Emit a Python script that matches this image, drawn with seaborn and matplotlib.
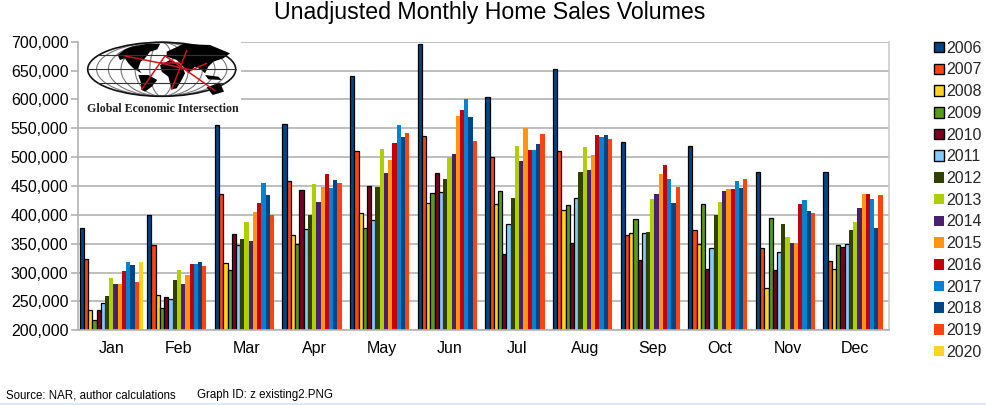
import numpy as np
import pandas as pd
import matplotlib
matplotlib.use("Agg")
import matplotlib.pyplot as plt
from matplotlib.patches import Ellipse, Polygon, Rectangle
from matplotlib.ticker import FuncFormatter, MultipleLocator
import seaborn as sns

months = ["Jan", "Feb", "Mar", "Apr", "May", "Jun", "Jul", "Aug", "Sep", "Oct", "Nov", "Dec"]
years = [str(y) for y in range(2006, 2021)]

# one list per month, in year order; 2020 only has January
jan = [377, 323.5, 235, 218, 235, 247, 260, 290, 281, 280, 302, 319, 313, 284, 318]
feb = [400, 347, 262, 238, 258, 254, 287, 304, 281, 295, 314, 315, 319, 311]
mar = [555, 436, 316, 304, 366, 347, 359, 387, 355, 405, 420, 455, 434, 400]
apr = [557, 458, 365, 349, 443, 375, 400, 454, 422, 449, 470, 447, 460, 456]
may = [640, 511, 403, 377, 450, 391, 448, 514, 473, 495, 524, 555, 535, 542]
jun = [696, 536, 421, 438, 472, 440, 462, 500, 506, 571, 582, 600, 570, 528]
jul = [604, 500, 418, 442, 332, 385, 430, 519, 494, 551, 513, 513, 523, 540]
aug = [653, 510, 409, 417, 352, 429, 475, 518, 478, 504, 539, 535, 539, 532]
sep = [526, 365, 369, 392, 321, 369, 371, 427, 436, 471, 486, 462, 420, 449]
oct_ = [519, 373, 349, 418, 307, 343, 400, 423, 442, 444, 445, 458, 446, 462]
nov = [475, 343, 273, 395, 304, 335, 385, 362, 351, 351, 418, 425, 406, 403]
dec = [474, 320, 306, 347, 345, 349, 373, 387, 412, 436, 436, 427, 377, 434]
month_values = [jan, feb, mar, apr, may, jun, jul, aug, sep, oct_, nov, dec]

colors = ["#004586", "#ff420e", "#ffd320", "#579d1c", "#7e0021", "#83caff", "#314004",
          "#aecf00", "#4b1f6f", "#ff950e", "#c5000b", "#0084d1", "#004586", "#ff420e", "#ffd320"]
outlined = 6  # first six years have a black border in the original

rows = []
for m, vals in zip(months, month_values):
    for y, v in zip(years, vals):
        rows.append({"month": m, "year": y, "sales": v * 1000})
df = pd.DataFrame(rows)

sns.set_theme(style="white")
plt.rcParams["font.family"] = ["Liberation Sans", "DejaVu Sans"]

W, H = 987, 405
fig = plt.figure(figsize=(W / 100, H / 100), dpi=100)
left, right, top, bottom = 77.5, 889, 41.7, 330.3
ax = fig.add_axes([left / W, 1 - bottom / H, (right - left) / W, (bottom - top) / H])

sns.barplot(data=df, x="month", y="sales", hue="year", order=months, hue_order=years,
            palette=dict(zip(years, colors)), width=15 / 16, saturation=1, ax=ax, legend=True)

for i, cont in enumerate(ax.containers):
    for bar in cont:
        bar.set_edgecolor("black" if i < outlined else bar.get_facecolor())
        bar.set_linewidth(0.9 if i < outlined else 0)

ax.set_xlim(-0.5, 11.5)
ax.set_ylim(200000, 700000)
ax.yaxis.set_major_locator(MultipleLocator(50000))
ax.yaxis.set_major_formatter(FuncFormatter(lambda v, _: f"{int(v):,}"))
ax.set_xlabel("")
ax.set_ylabel("")
ax.grid(axis="y", color="#b3b3b3", lw=1.2)
ax.set_axisbelow(True)
for side in ax.spines:
    ax.spines[side].set_color("#b3b3b3")
    ax.spines[side].set_linewidth(1.2)
ax.spines["top"].set_visible(False)
ax.spines["right"].set_color("#cccccc")

ax.set_xticks(np.arange(-0.5, 12, 1), minor=True)
ax.tick_params(axis="x", which="major", length=0, labelsize=11.5, pad=8, colors="black")
ax.tick_params(axis="x", which="minor", length=5, width=1.2, color="#b3b3b3")
ax.tick_params(axis="y", which="major", length=5, width=1.2, color="#b3b3b3",
               labelsize=11.5, pad=1.5, labelcolor="black", left=True)

handles, labels = ax.get_legend_handles_labels()
leg = ax.legend(handles, labels, loc="upper left", bbox_to_anchor=(929 / W, 1 - 36 / H),
                bbox_transform=fig.transFigure, frameon=False, fontsize=11.5,
                handlelength=0.64, handleheight=0.64, handletextpad=0.12,
                labelspacing=0.42, borderpad=0.3, borderaxespad=0)
for h, c in zip(leg.legend_handles, range(len(years))):
    h.set_edgecolor("black" if c < outlined else colors[c])
    h.set_linewidth(1.0 if c < outlined else 0)

fig.text(490 / W, 1 - 12 / H, "Unadjusted Monthly Home Sales Volumes", ha="center", va="center",
         fontsize=16.7, color="black")
fig.text(6 / W, 1 - 395 / H, "Source: NAR, author calculations", fontsize=8.3, va="center", color="black")
fig.text(197 / W, 1 - 395 / H, "Graph ID: z existing2.PNG", fontsize=8.3, va="center", color="black")
fig.add_artist(plt.Line2D([0, 1], [0.6 / H, 0.6 / H], color="#d5e6f3", lw=1.2))

# logo pasted over the top left of the plot, drawn in pixel space
logo = fig.add_axes([79 / W, 1 - 120 / H, 162 / W, 80 / H], zorder=5)
logo.set_xlim(79, 241)
logo.set_ylim(120, 40)
logo.axis("off")
logo.add_patch(Rectangle((79, 40), 162, 80, fc="white", ec="none"))


def zx(p):
    # positions measured on the zoomed crop of the logo
    return [(70 + a / 3, 30 + b / 3) for a, b in p]


cx, cy, rx, ry = 161.7, 69.3, 74, 27
for f in [0.88, 0.72, 0.55, 0.36, 0.16]:
    logo.add_patch(Ellipse((cx, cy), 2 * rx * f, 2 * ry, fc="none", ec="#777777", lw=0.8))
for dy in [-14, 0, 14]:
    half = rx * np.sqrt(1 - (dy / ry) ** 2)
    logo.plot([cx - half, cx + half], [cy + dy, cy + dy], color="#333333", lw=0.8)
logo.add_patch(Ellipse((cx, cy), 2 * rx, 2 * ry, fc="none", ec="#111111", lw=1.2))

land = [
    [(143, 75), (165, 58), (185, 50), (230, 42), (270, 42), (262, 58), (240, 65), (225, 85),
     (212, 95), (205, 115), (215, 130), (190, 115), (175, 100), (165, 85), (150, 90)],
    [(205, 135), (235, 135), (262, 150), (245, 170), (225, 185), (215, 180), (212, 155)],
    [(270, 105), (300, 90), (335, 105), (345, 130), (335, 150), (320, 175), (305, 178),
     (295, 140), (275, 125)],
    [(290, 65), (340, 42), (420, 45), (480, 70), (460, 85), (430, 95), (415, 110), (405, 130),
     (395, 120), (375, 110), (355, 130), (340, 110), (320, 90), (290, 80)],
    [(410, 172), (450, 158), (462, 185), (428, 195)],
    [(405, 135), (445, 140), (455, 150), (415, 148)],
]
for shape in land:
    logo.add_patch(Polygon(zx(shape), fc="black", ec="none"))

routes = [
    [(165, 78), (275, 100), (340, 115), (435, 182)],
    [(215, 178), (285, 78), (340, 115), (365, 120), (410, 100)],
    [(305, 178), (350, 62)],
    [(270, 100), (330, 100)],
]
for r in routes:
    xs, ys = zip(*zx(r))
    logo.plot(xs, ys, color="#d0151b", lw=1.1)

logo.text(162.5, 109, "Global Economic Intersection", ha="center", va="center",
          family="Liberation Serif", weight="bold", fontsize=8.6, color="#222222")

fig.savefig("out.png", dpi=100)
